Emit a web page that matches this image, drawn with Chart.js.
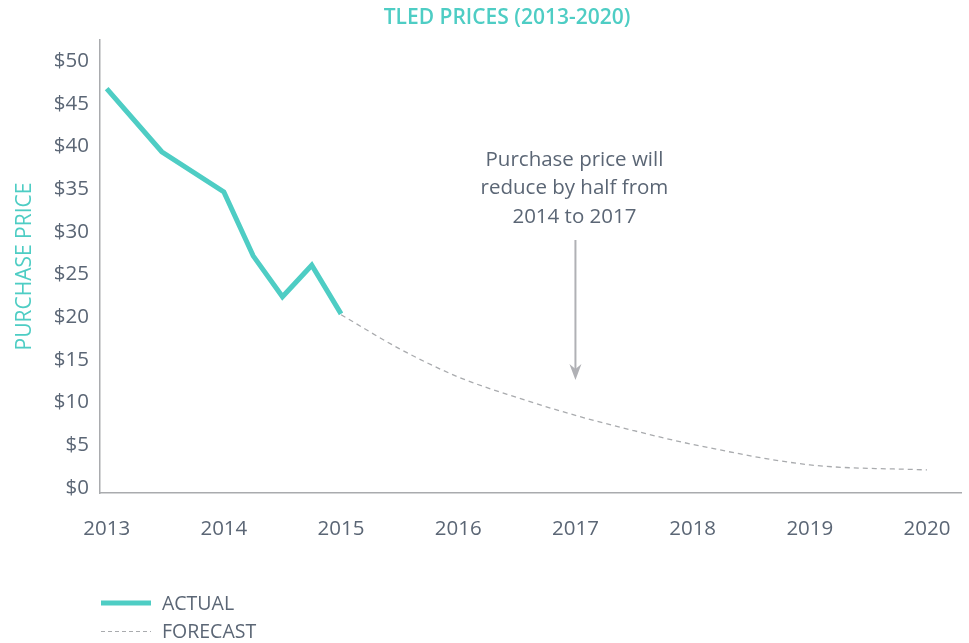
<!DOCTYPE html>
<html>
<head>
<meta charset="utf-8">
<script src="https://cdn.jsdelivr.net/npm/chart.js@4/dist/chart.umd.min.js"></script>
<style>
  html, body { margin: 0; padding: 0; background: #fff; overflow: hidden; }
  canvas { display: block; }
</style>
</head>
<body>
<canvas id="c" width="969" height="643"></canvas>
<script>
/* ---------- data ---------- */
const actualYears  = [2013, 2013.47, 2014, 2014.25, 2014.5, 2014.75, 2015];
const actualPrices = [46.8, 39.4, 34.7, 27.2, 22.4, 26.1, 20.4];

const forecastYears  = [2015, 2015.5, 2016, 2016.5, 2017, 2017.5, 2018, 2019, 2020];
const forecastPrices = [20.3, 16.3, 13.0, 10.6, 8.5, 6.7, 5.1, 2.7, 2.1];

const yearTicks  = [2013, 2014, 2015, 2016, 2017, 2018, 2019, 2020];
const priceTicks = [0, 5, 10, 15, 20, 25, 30, 35, 40, 45, 50];

const titleText  = "TLED PRICES (2013-2020)";
const yTitleText = "PURCHASE PRICE";
const noteLines  = ["Purchase price will", "reduce by half from", "2014 to 2017"];
const noteYear   = 2017;
const legendLabels = ["ACTUAL", "FORECAST"];

/* ---------- styles ---------- */
const TEAL = "#4ecdc4";
const TEXT = "#5b6675";
const AXIS = "#a9abae";
const FONT = "'Open Sans', 'Noto Sans', sans-serif";

const toPoints = (xs, ys) => xs.map((x, i) => ({ x: x, y: ys[i] }));

/* ---------- extras: title, note arrow, legend ---------- */
const extras = {
    id: "extras",
    afterDraw(chart) {
        const ctx = chart.ctx;
        const xs = chart.scales.x;
        ctx.save();

        // title
        ctx.fillStyle = TEAL;
        ctx.font = "600 21px " + FONT;
        ctx.textAlign = "center";
        ctx.textBaseline = "middle";
        ctx.fillText(titleText, 507, 18);

        // note
        const nx = xs.getPixelForValue(noteYear);
        ctx.fillStyle = TEXT;
        ctx.font = "20.5px " + FONT;
        noteLines.forEach((t, i) => ctx.fillText(t, nx - 1, 160 + i * 28.5));

        // arrow
        const top = 240, tip = 380;
        ctx.strokeStyle = "#b0b1b5";
        ctx.fillStyle = "#b0b1b5";
        ctx.lineWidth = 2;
        ctx.beginPath();
        ctx.moveTo(nx, top);
        ctx.lineTo(nx, tip - 6);
        ctx.stroke();
        ctx.beginPath();
        ctx.moveTo(nx, tip);
        ctx.lineTo(nx - 6, tip - 16);
        ctx.lineTo(nx, tip - 11);
        ctx.lineTo(nx + 6, tip - 16);
        ctx.closePath();
        ctx.fill();

        // legend
        ctx.textAlign = "left";
        ctx.fillStyle = TEXT;
        ctx.font = "19.5px " + FONT;
        ctx.strokeStyle = TEAL;
        ctx.lineWidth = 5;
        ctx.setLineDash([]);
        ctx.beginPath();
        ctx.moveTo(101, 603);
        ctx.lineTo(151, 603);
        ctx.stroke();
        ctx.fillText(legendLabels[0], 162, 604);

        ctx.strokeStyle = AXIS;
        ctx.lineWidth = 1.2;
        ctx.setLineDash([4, 3]);
        ctx.beginPath();
        ctx.moveTo(101, 631.5);
        ctx.lineTo(151, 631.5);
        ctx.stroke();
        ctx.setLineDash([]);
        ctx.fillText(legendLabels[1], 162, 632);

        ctx.restore();
    }
};

const chart = new Chart(document.getElementById("c"), {
    type: "line",
    data: {
        datasets: [
            {
                label: legendLabels[0],
                data: toPoints(actualYears, actualPrices),
                borderColor: TEAL,
                borderWidth: 5,
                pointRadius: 0,
                tension: 0
            },
            {
                label: legendLabels[1],
                data: toPoints(forecastYears, forecastPrices),
                borderColor: AXIS,
                borderWidth: 1.3,
                borderDash: [5, 4],
                pointRadius: 0,
                cubicInterpolationMode: "monotone"
            }
        ]
    },
    options: {
        responsive: false,
        animation: false,
        layout: { padding: { top: 40, right: 8, left: 0, bottom: 0 } },
        plugins: {
            legend: { display: false },
            title: { display: false },
            tooltip: { enabled: false }
        },
        scales: {
            x: {
                type: "linear",
                min: 2012.943,
                max: 2020.29,
                afterBuildTicks: s => { s.ticks = yearTicks.map(v => ({ value: v })); },
                afterFit: s => {
                    s.height = 150;
                    s.paddingLeft = 0;
                    s.paddingRight = 0;
                },
                grid: { display: false, drawTicks: false },
                border: { display: true, color: AXIS, width: 1.5 },
                ticks: {
                    color: TEXT,
                    font: { family: FONT, size: 20.5 },
                    padding: 24,
                    maxRotation: 0,
                    autoSkip: false,
                    callback: v => String(v)
                }
            },
            y: {
                min: -0.6,
                max: 52.5,
                afterBuildTicks: s => { s.ticks = priceTicks.map(v => ({ value: v })); },
                afterFit: s => {
                    s.width = 100;
                    s.paddingTop = 0;
                    s.paddingBottom = 0;
                },
                grid: { display: false, drawTicks: false },
                border: { display: true, color: AXIS, width: 1.5 },
                title: {
                    display: true,
                    text: yTitleText,
                    color: TEAL,
                    font: { family: FONT, size: 21 },
                    padding: { top: 12, bottom: 0 }
                },
                ticks: {
                    color: TEXT,
                    font: { family: FONT, size: 20.5 },
                    padding: 11,
                    autoSkip: false,
                    callback: v => "$" + v
                }
            }
        }
    },
    plugins: [extras]
});
</script>
</body>
</html>
